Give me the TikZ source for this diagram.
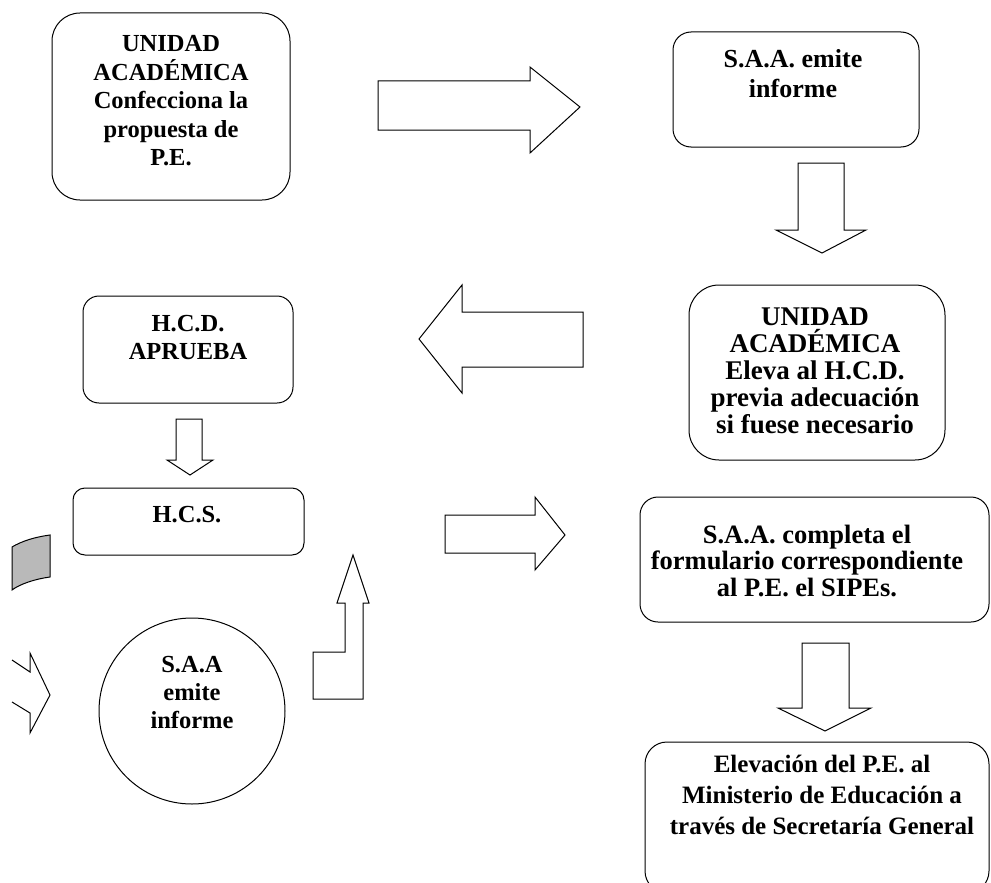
\documentclass[tikz,border=0pt]{standalone}
\usepackage{fontspec}
\setmainfont{Liberation Serif}
\begin{document}
\begin{tikzpicture}[x=1pt,y=-1pt,
  box/.style={draw=black,line width=1pt,rectangle,inner sep=0pt},
  txt/.style={font=\bfseries\fontsize{25}{28.5}\selectfont,align=center,inner sep=0pt,text=black},
  blockarrow/.style={draw=black,line width=1pt,line join=miter,fill=white}]
\useasboundingbox (0,0) rectangle (991,883);
\clip (0,0) rectangle (991,883);
% boxes
\node[box,rounded corners=28pt,minimum width=238pt,minimum height=187pt] (b1) at (171,106.5) {};
\node[box,rounded corners=18pt,minimum width=246pt,minimum height=115pt] (b2) at (796,89.5) {};
\node[box,rounded corners=30pt,minimum width=256pt,minimum height=175pt] (b3) at (817,372.5) {};
\node[box,rounded corners=16pt,minimum width=210pt,minimum height=107pt] (hcd) at (188,349.5) {};
\node[box,rounded corners=12pt,minimum width=231pt,minimum height=67pt] (hcs) at (188.5,521.5) {};
\node[box,circle,minimum size=186pt] (saa) at (192,711) {};
\node[box,rounded corners=18pt,minimum width=349pt,minimum height=125pt] (b4) at (814.5,559.5) {};
\node[box,rounded corners=22pt,minimum width=344pt,minimum height=151pt] (b5) at (817,817.5) {};
% texts
\node[txt,font=\bfseries\fontsize{24.5}{28.5}\selectfont] (t1) at (171,101) {UNIDAD\\ACADÉMICA\\Confecciona la\\propuesta de\\P.E.};
\node[txt,font=\bfseries\fontsize{26}{30}\selectfont] (t2) at (793,73.5) {S.A.A. emite\\informe};
\node[txt,font=\bfseries\fontsize{27}{27}\selectfont] (t3) at (815,370.5) {UNIDAD\\ACADÉMICA\\Eleva al H.C.D.\\previa adecuación\\si fuese necesario};
\node[txt,font=\bfseries\fontsize{24.5}{28}\selectfont] (t4) at (188,337.5) {H.C.D.\\APRUEBA};
\node[txt,font=\bfseries\fontsize{24.5}{28}\selectfont] (t5) at (187,515) {H.C.S.};
\node[txt,font=\bfseries\fontsize{24.5}{28}\selectfont] (t6) at (192,692.5) {S.A.A\\emite\\informe};
\node[txt,font=\bfseries\fontsize{26.5}{26.5}\selectfont] (t7) at (807,560.5) {S.A.A. completa el\\formulario correspondiente\\al P.E. el SIPEs.};
\node[txt,font=\bfseries\fontsize{25}{31}\selectfont] (t8) at (822,795) {Elevación del P.E. al\\Ministerio de Educación a\\través de Secretaría General};
% block arrows
\draw[blockarrow] (378,81) -- (530,81) -- (530,67) -- (580,107) -- (530,153) -- (530,130) -- (378,130) -- cycle;
\draw[blockarrow] (798,163) -- (844,163) -- (844,230) -- (866,230) -- (822,253) -- (776,230) -- (798,230) -- cycle;
\draw[blockarrow] (583,312) -- (462,312) -- (462,285) -- (419,339) -- (462,393) -- (462,367) -- (583,367) -- cycle;
\draw[blockarrow] (176,419) -- (202,419) -- (202,460) -- (213,460) -- (190,475) -- (167,460) -- (176,460) -- cycle;
\draw[blockarrow] (445,515) -- (535,515) -- (535,497) -- (565,535) -- (535,570) -- (535,553) -- (445,553) -- cycle;
\draw[blockarrow] (802,643) -- (849,643) -- (849,708) -- (871,708) -- (825,731) -- (778,708) -- (802,708) -- cycle;
\draw[blockarrow] (313,699) -- (363,699) -- (363,603) -- (369,603) -- (353,555) -- (337,603) -- (345,603) -- (345,652) -- (313,652) -- cycle;
% fragments at the left edge
\draw[line width=1pt,fill=gray!55] (50,535) -- (50,577) .. controls (35,579) and (20,584) .. (12,590) -- (12,547) .. controls (22,541) and (35,537) .. (50,535) -- cycle;
\draw[line width=1pt,line join=miter] (12,660) -- (30,672) -- (30,653) -- (50,695) -- (30,733) -- (30,713) -- (12,702);
\end{tikzpicture}
\end{document}
